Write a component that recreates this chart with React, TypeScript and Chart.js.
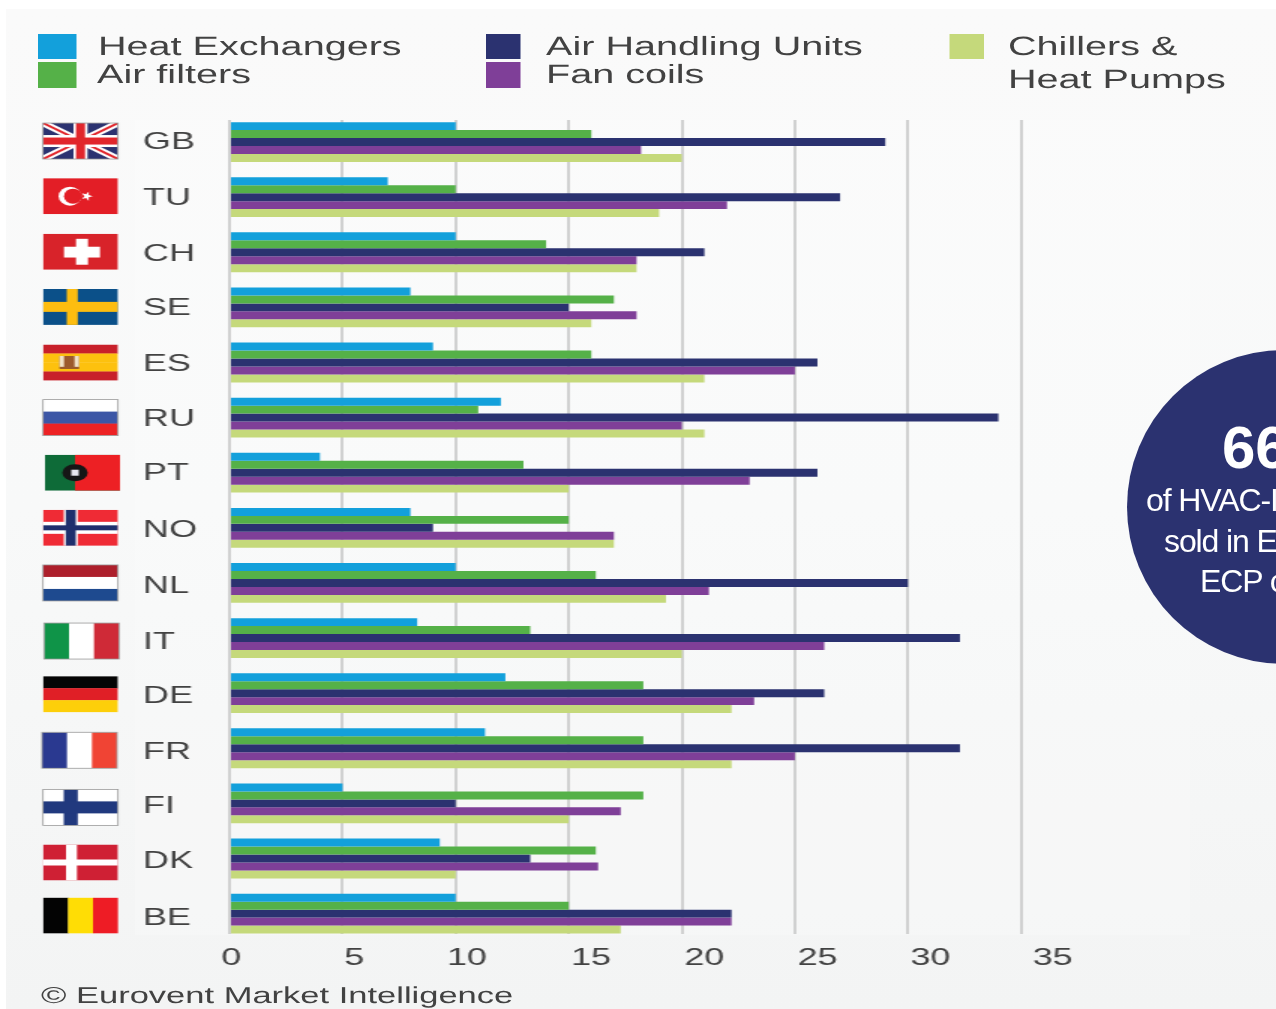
import React, { useEffect, useRef } from "react";
import { Chart, registerables } from "chart.js";

Chart.register(...registerables);

const countries = ["GB", "TU", "CH", "SE", "ES", "RU", "PT", "NO", "NL", "IT", "DE", "FR", "FI", "DK", "BE"];
const heatExchangers = [10, 7, 10, 8, 9, 12, 4, 8, 10, 8.3, 12.2, 11.3, 5, 9.3, 10];
const airFilters = [16, 10, 14, 17, 16, 11, 13, 15, 16.2, 13.3, 18.3, 18.3, 18.3, 16.2, 15];
const airHandlingUnits = [29, 27, 21, 15, 26, 34, 26, 9, 30, 32.3, 26.3, 32.3, 10, 13.3, 22.2];
const fanCoils = [18.2, 22, 18, 18, 25, 20, 23, 17, 21.2, 26.3, 23.2, 25, 17.3, 16.3, 22.2];
const chillers = [20, 19, 18, 16, 21, 21, 15, 17, 19.3, 20, 22.2, 22.2, 15, 10, 17.3];
const xTickLabels = ["0", "5", "10", "15", "20", "25", "30", "35"];
const xTickAnchors = [0.07, 5.51, 10.5, 15.99, 21, 26, 31, 36.4];
const yTickAnchors = [0, 1.016, 2.03, 3.01, 4.03, 5.04, 6.02, 7.04, 8.06, 9.07, 10.05, 11.07, 12.06, 13.06, 14.08];
const flagNudgeY = [-1, -1, -0.5, -0.5, 0, 0, 0, 0, 0, 3, 1, 2, 4, 4, 2];
const flagNudgeX = [0, 0, 0, 0, 0, 0, 2, 0, 0, 1, 0, -1, 0, 0, 0];
const gridValues = [0, 5, 10, 15, 20, 25, 30, 35];

const COLORS = { blue: "#13a0db", green: "#55b148", navy: "#2b3270", purple: "#7f3f98", lime: "#c5d97b" };
const TEXT = "#424242";
const FONT = '"Liberation Sans", Arial, sans-serif';
const SX = 1.5;

type Ctx = CanvasRenderingContext2D;
function bands(c: Ctx, x: number, y: number, w: number, h: number, cols: string[], vertical = false) {
  cols.forEach((col, i) => {
    c.fillStyle = col;
    if (vertical) c.fillRect(x + (w * i) / cols.length, y, w / cols.length + 0.3, h);
    else c.fillRect(x, y + (h * i) / cols.length, w, h / cols.length + 0.3);
  });
}
// Widths are in screen pixels; horizontal ones are divided by the page's stretch.
function cross(c: Ctx, x: number, y: number, w: number, h: number, bg: string, fg: string, vx: number, vw: number, hh: number, inner?: string, ivw?: number, ihh?: number) {
  c.fillStyle = bg;
  c.fillRect(x, y, w, h);
  c.fillStyle = fg;
  c.fillRect(x + w * vx - vw / 2 / SX, y, vw / SX, h);
  c.fillRect(x, y + h / 2 - hh / 2, w, hh);
  if (inner && ivw && ihh) {
    c.fillStyle = inner;
    c.fillRect(x + w * vx - ivw / 2 / SX, y, ivw / SX, h);
    c.fillRect(x, y + h / 2 - ihh / 2, w, ihh);
  }
}
function drawFlag(c: Ctx, code: string, x: number, y: number, w: number, h: number) {
  c.save();
  c.beginPath();
  c.rect(x, y, w, h);
  c.clip();
  switch (code) {
    case "GB": {
      c.fillStyle = "#2b3270";
      c.fillRect(x, y, w, h);
      const line = (x1: number, y1: number, x2: number, y2: number, col: string, lw: number) => {
        c.strokeStyle = col;
        c.lineWidth = lw;
        c.beginPath();
        c.moveTo(x1, y1);
        c.lineTo(x2, y2);
        c.stroke();
      };
      line(x, y, x + w, y + h, "#fff", 6);
      line(x + w, y, x, y + h, "#fff", 6);
      line(x, y, x + w, y + h, "#e1262c", 2);
      line(x + w, y, x, y + h, "#e1262c", 2);
      cross(c, x, y, w, h, "transparent", "#fff", 0.5, 14, 12, "#e1262c", 9, 7);
      break;
    }
    case "TU": {
      c.fillStyle = "#e31e26";
      c.fillRect(x, y, w, h);
      const cx = x + w * 0.36, cy = y + h * 0.5;
      c.save();
      c.translate(cx, cy);
      c.scale(1.2 / SX, 1);
      c.fillStyle = "#fff";
      c.beginPath();
      c.arc(0, 0, 9.5, 0, Math.PI * 2);
      c.fill();
      c.fillStyle = "#e31e26";
      c.beginPath();
      c.arc(2.5, 0, 7.5, 0, Math.PI * 2);
      c.fill();
      c.fillStyle = "#fff";
      c.beginPath();
      for (let i = 0; i < 10; i++) {
        const r = i % 2 ? 2 : 5, a = (i * Math.PI) / 5;
        c.lineTo(14 + r * Math.cos(a), r * Math.sin(a));
      }
      c.fill();
      c.restore();
      break;
    }
    case "CH":
      c.fillStyle = "#d8232a";
      c.fillRect(x, y, w, h);
      c.fillStyle = "#fff";
      c.fillRect(x + w * 0.28, y + h * 0.36, w * 0.48, h * 0.3);
      c.fillRect(x + w * 0.44, y + h * 0.14, w * 0.16, h * 0.72);
      break;
    case "SE":
      cross(c, x, y, w, h, "#0b5089", "#fdbd10", 0.39, 11, 10);
      break;
    case "ES":
      bands(c, x, y, w, h, ["#c8202a", "#fdc10e", "#fdc10e", "#c8202a"]);
      c.fillStyle = "#9c5a2c";
      c.fillRect(x + w * 0.22, y + h * 0.32, w * 0.26, h * 0.36);
      c.fillStyle = "#f2e4c8";
      c.fillRect(x + w * 0.22, y + h * 0.32, w * 0.06, h * 0.3);
      c.fillRect(x + w * 0.42, y + h * 0.32, w * 0.06, h * 0.3);
      break;
    case "RU":
      bands(c, x, y, w, h, ["#ffffff", "#3c56a6", "#ed2224"]);
      break;
    case "PT":
      c.fillStyle = "#0e6b38";
      c.fillRect(x, y, w, h);
      c.fillStyle = "#ed2024";
      c.fillRect(x + w * 0.4, y, w * 0.6, h);
      c.save();
      c.translate(x + w * 0.4, y + h / 2);
      c.scale(1.5 / SX, 1);
      c.fillStyle = "#161616";
      c.beginPath();
      c.arc(0, 0, 8.5, 0, Math.PI * 2);
      c.fill();
      c.fillStyle = "#e8e8f0";
      c.fillRect(-2.5, -3, 5, 6);
      c.restore();
      break;
    case "NO":
      cross(c, x, y, w, h, "#ef2b35", "#fff", 0.37, 14, 12, "#1f2f6d", 10, 5);
      break;
    case "NL":
      bands(c, x, y, w, h, ["#ad1f2b", "#ffffff", "#1e4a8f"]);
      break;
    case "IT":
      bands(c, x, y, w, h, ["#0f9448", "#ffffff", "#cf2a37"], true);
      break;
    case "DE":
      bands(c, x, y, w, h, ["#050505", "#e01f26", "#fdcf0a"]);
      break;
    case "FR":
      bands(c, x, y, w, h, ["#2a3990", "#ffffff", "#f04434"], true);
      break;
    case "FI":
      cross(c, x, y, w, h, "#ffffff", "#21397e", 0.37, 14, 12);
      break;
    case "DK":
      cross(c, x, y, w, h, "#cf2034", "#ffffff", 0.38, 11, 6);
      break;
    case "BE":
      bands(c, x, y, w, h, ["#030303", "#ffdd05", "#ee1c25"], true);
      break;
  }
  c.restore();
  if (["GB", "NL", "IT", "FR", "FI", "RU"].includes(code)) {
    c.strokeStyle = "#9a9a9a";
    c.lineWidth = 0.8;
    c.strokeRect(x, y, w, h);
  }
}

const flagPlugin = {
  id: "flags",
  afterDraw(chart: any) {
    const y = chart.scales.y;
    countries.forEach((code, i) => {
      const cy = y.getPixelForValue(i) + flagNudgeY[i];
      drawFlag(chart.ctx, code, (43 + flagNudgeX[i]) / SX, cy - 18, 75 / SX, 36);
    });
  },
};

const legendItems = [
  { label: "Heat Exchangers", color: COLORS.blue, sx: 38, sw: 38, sy: 34, sh: 25, tx: 98, ty: 46 },
  { label: "Air filters", color: COLORS.green, sx: 38, sw: 38, sy: 62, sh: 26, tx: 97, ty: 74 },
  { label: "Air Handling Units", color: COLORS.navy, sx: 486, sw: 35, sy: 34, sh: 25, tx: 546, ty: 46 },
  { label: "Fan coils", color: COLORS.purple, sx: 486, sw: 35, sy: 62, sh: 26, tx: 546, ty: 74 },
  { label: "Chillers &", color: COLORS.lime, sx: 949, sw: 35, sy: 34, sh: 25, tx: 1008, ty: 46 },
  { label: "Heat Pumps", color: "", sx: 0, sw: 0, sy: 0, sh: 0, tx: 1008, ty: 79 },
];

const circleLines = [
  { text: "66", left: 1222, base: 473, size: 60, weight: 700, spacing: 0 },
  { text: "of HVAC-I", left: 1146, base: 514, size: 32, weight: 400, spacing: -1.1 },
  { text: "sold in E", left: 1164, base: 555, size: 32, weight: 400, spacing: -1.1 },
  { text: "ECP c", left: 1200, base: 595, size: 32, weight: 400, spacing: -1.1 },
];

export default function App() {
  const ref = useRef<HTMLCanvasElement>(null);
  useEffect(() => {
    if (!ref.current) return;
    const series: [string, number[], string][] = [
      ["Heat Exchangers", heatExchangers, COLORS.blue],
      ["Air filters", airFilters, COLORS.green],
      ["Air Handling Units", airHandlingUnits, COLORS.navy],
      ["Fan coils", fanCoils, COLORS.purple],
      ["Chillers & Heat Pumps", chillers, COLORS.lime],
    ];
    const chart = new Chart(ref.current, {
      type: "bar",
      data: {
        datasets: series.map(([label, vals, color]) => ({
          label,
          data: vals.map((v, i) => ({ x: v, y: i })),
          backgroundColor: color,
          borderWidth: 0,
          categoryPercentage: 0.737,
          barPercentage: 1,
        })),
      },
      options: {
        indexAxis: "y",
        animation: false,
        responsive: false,
        devicePixelRatio: 1,
        layout: { padding: { top: 120, left: 143 / SX, right: 851 - 1021 / SX, bottom: 0 } },
        plugins: { legend: { display: false }, tooltip: { enabled: false } },
        scales: {
          y: {
            type: "linear",
            reverse: true,
            offset: false,
            min: -0.4,
            max: 14.37,
            grid: { display: false, offset: false },
            border: { display: false },
            afterBuildTicks: (s: any) => {
              s.ticks = yTickAnchors.map((value) => ({ value }));
            },
            afterFit: (s: any) => {
              s.width = (229.5 - 143) / SX;
            },
            ticks: {
              autoSkip: false,
              crossAlign: "far",
              color: TEXT,
              font: { family: FONT, size: 24 },
              callback: (_: any, i: number) => countries[i],
            },
          },
          x: {
            type: "linear",
            position: "bottom",
            weight: 0,
            min: 0,
            max: 35,
            afterBuildTicks: (s: any) => {
              s.ticks = gridValues.map((value) => ({ value }));
            },
            afterFit: (s: any) => {
              s.height = 0;
            },
            grid: { color: "#d0d1d1", lineWidth: 2, drawTicks: false },
            border: { display: false },
            ticks: { display: false },
          },
          xLabels: {
            type: "linear",
            axis: "x",
            position: "bottom",
            weight: 1,
            min: 0,
            max: 35,
            grid: { display: false },
            border: { display: false },
            afterBuildTicks: (s: any) => {
              s.ticks = xTickAnchors.map((value) => ({ value }));
            },
            afterFit: (s: any) => {
              s.height = 75;
            },
            ticks: {
              autoSkip: false,
              maxRotation: 0,
              padding: 2,
              color: TEXT,
              font: { family: FONT, size: 24 },
              callback: (_: any, i: number) => xTickLabels[i],
            },
          },
        },
      } as any,
      plugins: [flagPlugin],
    });
    return () => chart.destroy();
  }, []);

  return (
    <div style={{ position: "absolute", left: 0, top: 0, width: 1276, height: 1009, overflow: "hidden", background: "#fff", fontFamily: FONT }}>
      <div style={{ position: "absolute", left: 6, top: 9, width: 1270, height: 1000, background: "linear-gradient(#fafafa, #f8f9f9 50%, #f3f4f4)" }} />
      <div style={{ position: "absolute", left: 135, top: 120, width: 1055, height: 815, background: "rgba(255,255,255,0.2)" }} />
      <div style={{ position: "absolute", left: 0, top: 0, width: 851, height: 1009, transform: `scaleX(${SX})`, transformOrigin: "0 0" }}>
        <canvas ref={ref} width={851} height={1009} style={{ position: "absolute", left: 0, top: 0, width: 851, height: 1009 }} />
        {legendItems.map((it) => (
          <React.Fragment key={it.label}>
            {it.color && (
              <div style={{ position: "absolute", left: it.sx / SX, top: it.sy, width: it.sw / SX, height: it.sh, background: it.color }} />
            )}
            <div style={{ position: "absolute", left: it.tx / SX, top: it.ty - 16, height: 32, lineHeight: "32px", fontSize: 26.4, color: TEXT, whiteSpace: "nowrap", textRendering: "geometricPrecision" }}>
              {it.label}
            </div>
          </React.Fragment>
        ))}
        <div style={{ position: "absolute", left: 41 / SX, top: 995 - 14, height: 28, lineHeight: "28px", fontSize: 23, color: TEXT, whiteSpace: "nowrap", textRendering: "geometricPrecision" }}>
          © Eurovent Market Intelligence
        </div>
      </div>
      <div style={{ position: "absolute", left: 1127, top: 350, width: 314, height: 314, borderRadius: "50%", background: "#2b3270" }} />
      {circleLines.map((l) => (
        <div
          key={l.text}
          style={{
            position: "absolute",
            left: l.left,
            top: l.base - l.size,
            height: l.size * 1.2,
            lineHeight: `${l.size * 1.15}px`,
            fontSize: l.size,
            fontWeight: l.weight,
            letterSpacing: l.spacing,
            color: "#fff",
            whiteSpace: "nowrap",
          }}
        >
          {l.text}
        </div>
      ))}
    </div>
  );
}
